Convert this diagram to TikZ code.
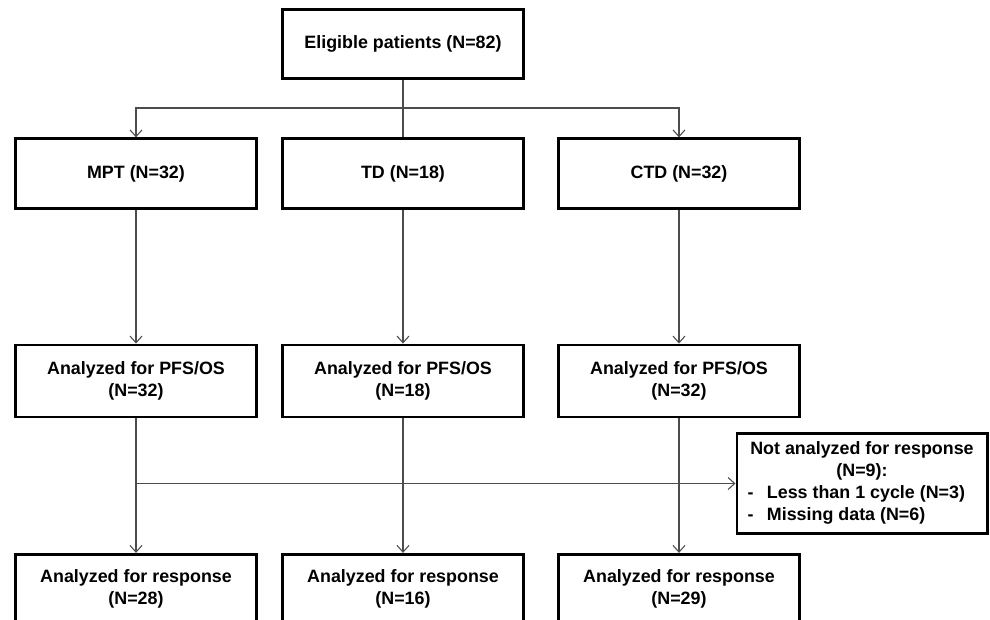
\documentclass[tikz,border=0pt]{standalone}
\usepackage{fontspec}
\setmainfont{Liberation Sans}
\usetikzlibrary{arrows.meta,positioning}

\tikzset{
  box/.style={draw, line width=2.2pt, minimum width=181pt, minimum height=52pt,
    align=center, inner sep=2pt, font=\bfseries\fontsize{13.4}{16.5}\selectfont},
  link/.style={draw=black!70, line width=0.8pt},
  arr/.style={link, -{Straight Barb[length=5pt,width=9pt]}}
}

\begin{document}
\begin{tikzpicture}[x=0.75pt, y=-0.75pt]
\clip (0,0) rectangle (990,619);

% Enrolment
\node[box] (elig) at (403,44) {Eligible patients (N=82)};

% Treatment arms
\node[box] (mpt) at (136,173.5) {MPT (N=32)};
\node[box] (td)  at (403,173.5) {TD (N=18)};
\node[box] (ctd) at (679,173.5) {CTD (N=32)};

% Survival analysis
\node[box, minimum height=54pt] (mptpfs) at (136,381) {Analyzed for PFS/OS\\(N=32)};
\node[box, minimum height=54pt] (tdpfs)  at (403,381) {Analyzed for PFS/OS\\(N=18)};
\node[box, minimum height=54pt] (ctdpfs) at (679,381) {Analyzed for PFS/OS\\(N=32)};

% Excluded from response
\node[box, minimum width=187pt, minimum height=75pt, inner sep=4pt] (notresp) at (862,483.5) {%
  \begin{tabular}{@{\hspace{4pt}}l@{\hspace{10pt}}l@{}}
    \multicolumn{2}{c}{Not analyzed for response}\\
    \multicolumn{2}{c}{(N=9):}\\
    - & Less than 1 cycle (N=3)\\
    - & Missing data (N=6)
  \end{tabular}};

% Response analysis
\node[box] (mptresp) at (136,589) {Analyzed for response\\(N=28)};
\node[box] (tdresp)  at (403,589) {Analyzed for response\\(N=16)};
\node[box] (ctdresp) at (679,589) {Analyzed for response\\(N=29)};

% Connectors
\coordinate (split) at (403,108);
\draw[link] (elig) -- (td);
\draw[arr] (split) -| (mpt.north);
\draw[arr] (split) -| (ctd.north);

\draw[arr] (mpt) -- (mptpfs);
\draw[arr] (td) -- (tdpfs);
\draw[arr] (ctd) -- (ctdpfs);

\draw[arr] (mptpfs) -- (mptresp);
\draw[arr] (tdpfs) -- (tdresp);
\draw[arr] (ctdpfs) -- (ctdresp);

\coordinate (branch) at (mptpfs.south |- notresp.west);
\draw[arr] (branch) -- (notresp.west);

\end{tikzpicture}
\end{document}
